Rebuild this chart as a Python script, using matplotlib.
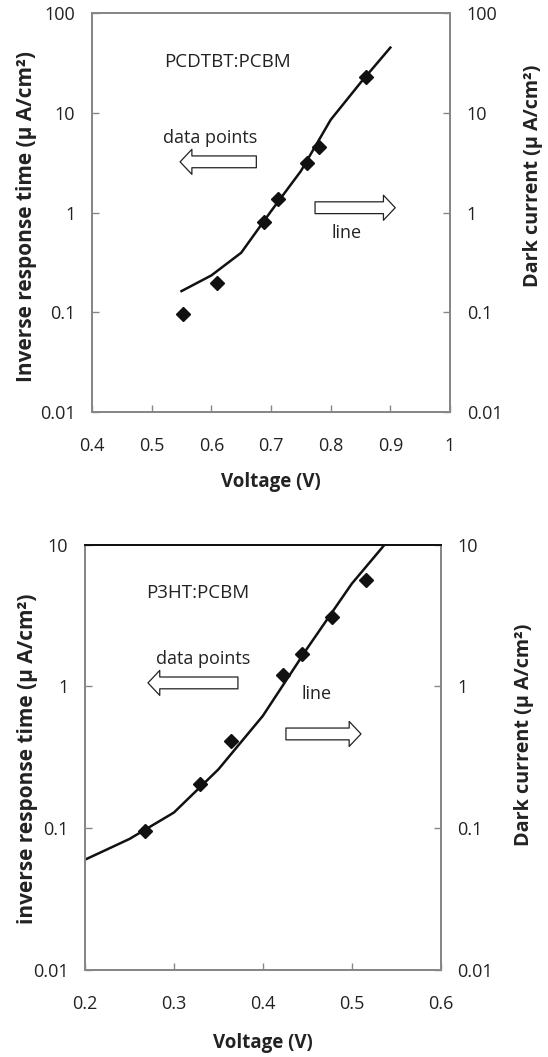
import matplotlib
matplotlib.use("Agg")
import matplotlib.pyplot as plt
from matplotlib.ticker import FixedLocator, FuncFormatter

plt.rcParams['font.family'] = ['Open Sans', 'DejaVu Sans']

# PCDTBT:PCBM
top_pts_v = [0.552, 0.609, 0.688, 0.712, 0.760, 0.780, 0.859]
top_pts_y = [0.097, 0.198, 0.80, 1.37, 3.14, 4.5, 22.9]
top_line_v = [0.55, 0.60, 0.65, 0.70, 0.75, 0.80, 0.85, 0.90]
top_line_y = [0.163, 0.234, 0.395, 1.03, 2.6, 8.5, 20, 45]
top_xticks = [0.4, 0.5, 0.6, 0.7, 0.8, 0.9, 1.0]
top_yticks = [0.01, 0.1, 1, 10, 100]

# P3HT:PCBM
bot_pts_v = [0.268, 0.329, 0.364, 0.423, 0.444, 0.478, 0.516]
bot_pts_y = [0.095, 0.206, 0.41, 1.21, 1.70, 3.07, 5.6]
bot_line_v = [0.20, 0.25, 0.30, 0.35, 0.40, 0.45, 0.50, 0.55]
bot_line_y = [0.060, 0.084, 0.129, 0.26, 0.62, 1.86, 5.3, 12.5]
bot_xticks = [0.2, 0.3, 0.4, 0.5, 0.6]
bot_yticks = [0.01, 0.1, 1, 10]

GRAY = '#878787'
TXT = '#222222'
fmt = FuncFormatter(lambda v, _: f'{v:g}')

fig = plt.figure(figsize=(5.48, 10.57), dpi=100)


def panel(rect, pv, py, lv, ly, xt, yt, name, ylab, pos):
    ax = fig.add_axes(rect)
    ax.set_yscale('log')
    ax.plot(lv, ly, color='#111111', lw=1.8, zorder=3)
    ax.plot(pv, py, 'D', color='#111111', ms=7.4, zorder=4)
    ax.set_xlim(xt[0], xt[-1])
    ax.set_ylim(yt[0], yt[-1])
    ax.xaxis.set_major_locator(FixedLocator(xt))
    ax.xaxis.set_major_formatter(fmt)
    ax.yaxis.set_major_locator(FixedLocator(yt))
    ax.yaxis.set_major_formatter(fmt)
    ax.yaxis.set_minor_locator(FixedLocator([]))
    for s in ax.spines.values():
        s.set_color(GRAY)
        s.set_linewidth(1.4)
    ax.tick_params(axis='both', direction='in', length=5, width=1.0,
                   color=GRAY, labelsize=13, labelcolor=TXT)
    ax.tick_params(axis='x', pad=18)
    ax.tick_params(axis='y', pad=12)

    ax2 = ax.twinx()
    ax2.set_yscale('log')
    ax2.set_ylim(yt[0], yt[-1])
    ax2.yaxis.set_major_locator(FixedLocator(yt))
    ax2.yaxis.set_major_formatter(fmt)
    ax2.yaxis.set_minor_locator(FixedLocator([]))
    for s in ax2.spines.values():
        s.set_color(GRAY)
        s.set_linewidth(1.4)
    ax2.tick_params(axis='y', direction='in', length=5, width=1.0,
                    color=GRAY, labelsize=13, labelcolor=TXT, pad=12)

    ax.set_xlabel('Voltage (V)', fontsize=13.5, fontweight='bold', color=TXT)
    ax.xaxis.set_label_coords(0.5, pos['xl'])
    ax.xaxis.label.set_va('center')
    ax.set_ylabel(ylab + ' (μ A/cm²)', fontsize=15, fontweight='bold', color=TXT)
    ax.yaxis.set_label_coords(pos['yl'][0], pos['yl'][1])
    ax.yaxis.label.set_va('center')
    ax2.set_ylabel('Dark current (μ A/cm²)', fontsize=14.2, fontweight='bold',
                   color=TXT, rotation=90)
    ax2.yaxis.set_label_coords(pos['yr'][0], pos['yr'][1])
    ax2.yaxis.label.set_va('center')

    ax.text(pos['name'][0], pos['name'][1], name, transform=ax.transAxes,
            fontsize=13.5, ha='center', va='center', color=TXT)
    ax.text(pos['dp'][0], pos['dp'][1], 'data points', transform=ax.transAxes,
            fontsize=13, ha='center', va='center', color=TXT)
    ax.text(pos['ln'][0], pos['ln'][1], 'line', transform=ax.transAxes,
            fontsize=13, ha='center', va='center', color=TXT)
    style = 'simple,head_width=1.8,head_length=0.85,tail_width=0.85'
    for tail, head in (pos['la'], pos['ra']):
        ax.annotate('', xy=head, xytext=tail, xycoords='axes fraction',
                    textcoords='axes fraction',
                    arrowprops=dict(arrowstyle=style, fc='white', ec=TXT,
                                    lw=0.9, shrinkA=0, shrinkB=0,
                                    mutation_scale=10))
    return ax, ax2


top_pos = dict(xl=-0.175, yl=(-0.182, 0.489), yr=(1.232, 0.591),
               name=(0.378, 0.877),
               dp=(0.331, 0.687), ln=(0.712, 0.448),
               la=((0.459, 0.627), (0.246, 0.627)),
               ra=((0.623, 0.512), (0.847, 0.512)))
bot_pos = dict(xl=-0.172, yl=(-0.163, 0.496), yr=(1.234, 0.553),
               name=(0.318, 0.887),
               dp=(0.332, 0.731), ln=(0.652, 0.649),
               la=((0.430, 0.675), (0.177, 0.675)),
               ra=((0.565, 0.555), (0.776, 0.555)))

ax_t, ax_t2 = panel([0.1679, 0.6102, 0.6533, 0.3775], top_pts_v, top_pts_y,
                    top_line_v, top_line_y, top_xticks, top_yticks,
                    'PCDTBT:PCBM', 'Inverse response time', top_pos)
ax_b, ax_b2 = panel([0.1551, 0.0823, 0.6490, 0.4024], bot_pts_v, bot_pts_y,
                    bot_line_v, bot_line_y, bot_xticks, bot_yticks,
                    'P3HT:PCBM', 'inverse response time', bot_pos)
ax_b.spines['top'].set_color('#111111')
ax_b2.spines['top'].set_color('#111111')

fig.savefig('out.png', dpi=100)
